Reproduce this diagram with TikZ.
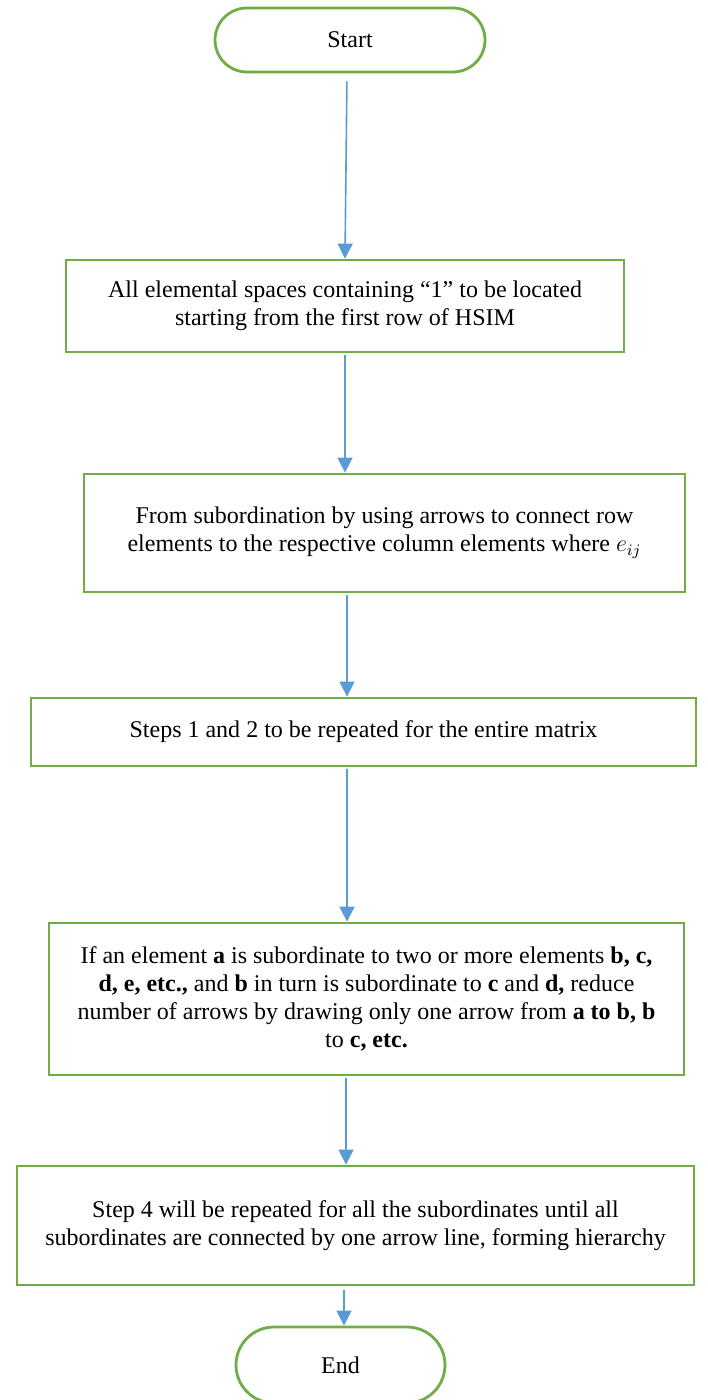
\documentclass[tikz,border=0pt]{standalone}
\usepackage{fontspec}
\setmainfont{Liberation Serif}
\usetikzlibrary{arrows.meta,shapes.misc}
\definecolor{boxgreen}{HTML}{70AD47}
\definecolor{arrowblue}{HTML}{5B9BD5}
\begin{document}
\begin{tikzpicture}[x=0.5pt,y=-0.5pt,
  every node/.style={font=\fontsize{12}{14}\selectfont, align=center, inner sep=0pt},
  terminal/.style={draw=boxgreen, line width=1.4pt, rounded rectangle, fill=white},
  stepbox/.style={draw=boxgreen, line width=1.4pt, rectangle, fill=white},
  arr/.style={draw=arrowblue, line width=0.8pt, -{Triangle[width=7.5pt,length=7.5pt]}, arrowblue}]
\clip (0,0) rectangle (707,1400);
\fill[white] (0,0) rectangle (707,1400);

% flow chart boxes
\node[terminal, minimum width=135pt, minimum height=32pt] (start) at (350,40) {Start};
\node[stepbox, minimum width=279pt, minimum height=46pt] (b1) at (345,306)
  {All elemental spaces containing “1” to be located\\starting from the first row of HSIM};
\node[stepbox, minimum width=300.5pt, minimum height=59pt] (b2) at (384.5,533)
  {From subordination by using arrows to connect row\\elements to the respective column elements where $e_{ij}$};
\node[stepbox, minimum width=332.5pt, minimum height=34pt] (b3) at (363.5,732)
  {Steps 1 and 2 to be repeated for the entire matrix};
\node[stepbox, minimum width=317.5pt, minimum height=76pt] (b4) at (366.5,999)
  {If an element \textbf{a} is subordinate to two or more elements \textbf{b, c,}\\
   \textbf{d, e, etc.,} and \textbf{b} in turn is subordinate to \textbf{c} and \textbf{d,} reduce\\
   number of arrows by drawing only one arrow from \textbf{a to b, b}\\
   to \textbf{c, etc.}};
\node[stepbox, minimum width=338.5pt, minimum height=59.5pt] (b5) at (355.5,1225.5)
  {Step 4 will be repeated for all the subordinates until all\\
   subordinates are connected by one arrow line, forming hierarchy};
\node[terminal, minimum width=104.5pt, minimum height=38pt] (end) at (340.5,1365) {End};

% x positions of the connectors
\coordinate (x1) at (347,0);
\coordinate (x2) at (345,0);
\coordinate (x3) at (347,0);
\coordinate (x4) at (347,0);
\coordinate (x5) at (346,0);
\coordinate (x6) at (344,0);

% connectors
\draw[arr, shorten <=4pt] (start.south -| x1) -- (b1.north -| b1.north);
\draw[arr, shorten <=1pt] (b1.south -| x2) -- (b2.north -| x2);
\draw[arr, shorten <=1pt] (b2.south -| x3) -- (b3.north -| x3);
\draw[arr, shorten <=1pt] (b3.south -| x4) -- (b4.north -| x4);
\draw[arr, shorten <=1pt] (b4.south -| x5) -- (b5.north -| x5);
\draw[arr, shorten <=2pt] (b5.south -| x6) -- (end.north -| x6);
\end{tikzpicture}
\end{document}
